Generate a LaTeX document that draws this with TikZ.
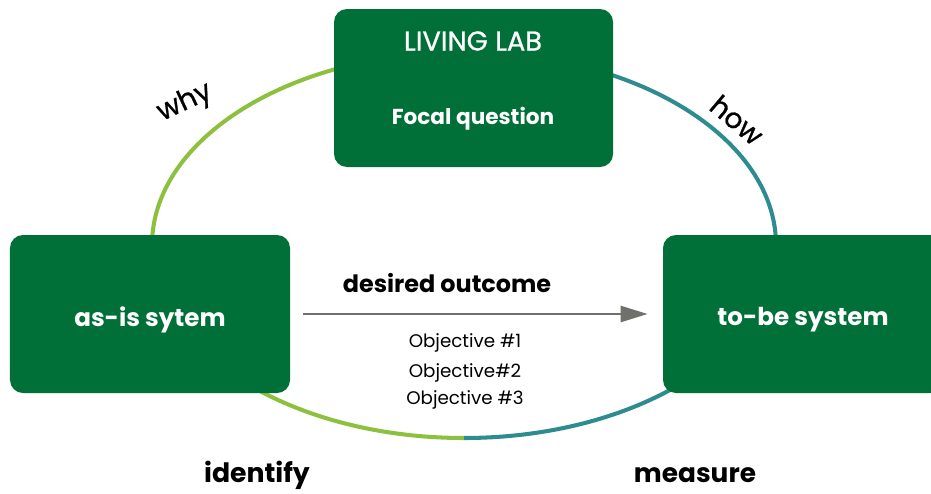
\documentclass[tikz,border=0pt]{standalone}
\usepackage{fontspec}
\setmainfont{Poppins}
\newfontfamily\mediumfont[FakeBold=0.8]{Poppins}
\usepackage{tikz}
\usetikzlibrary{arrows.meta,positioning,calc}
\definecolor{labgreen}{RGB}{0,112,56}
\definecolor{leafgreen}{RGB}{141,192,63}
\definecolor{tealline}{RGB}{46,139,143}
\definecolor{arrowgray}{RGB}{112,112,108}
\tikzset{
    box/.style={fill=labgreen, rounded corners=0.26cm, minimum width=5.6cm, minimum height=3.16cm},
    boxtext/.style={text=white, font=\fontsize{14}{16}\selectfont\bfseries},
    flow/.style={-{Triangle[length=0.54cm, width=0.32cm]}, line width=1.4pt, arrowgray},
    ring/.style={line width=2.3pt},
    word/.style={font=\fontsize{16}{18}\selectfont\mediumfont},
    goal/.style={font=\fontsize{10.4}{12}\selectfont}
}
\begin{document}
\begin{tikzpicture}
    \useasboundingbox (0,0) rectangle (18.62,9.86);
    % the ring behind the boxes
    \coordinate (c) at (9.28,4.96);
    \draw[ring, leafgreen] ($(c)+(0,3.86)$) arc (90:270:6.24cm and 3.86cm);
    \draw[ring, tealline] ($(c)+(0,-3.86)$) arc (-90:90:6.24cm and 3.86cm);
    % boxes
    \node[box, minimum width=5.58cm] (lab) at (9.47,8.10) {};
    \node[text=white, font=\fontsize{15.5}{18}\selectfont\mediumfont] (title) at (9.46,9.04) {LIVING LAB};
    \node[boxtext, font=\fontsize{12.3}{15}\selectfont\bfseries] (focal) at (9.46,7.48) {Focal question};
    \node[box] (asis) at (3.0,3.58) {};
    \node[boxtext] (asistext) at ([yshift=-0.12cm]asis.center) {as-is sytem};
    \node[box] (tobe) at (16.06,3.58) {};
    \node[boxtext] (tobetext) at ([yshift=-0.12cm]tobe.center) {to-be system};
    % arrow and objectives
    \draw[flow, shorten <=0.26cm, shorten >=0.3cm] (asis.east) -- (tobe.west);
    \node[font=\fontsize{13.6}{16}\selectfont\bfseries] (outcome) at (8.94,4.2) {desired outcome};
    \node[goal] (obj1) at (9.3,3.0) {Objective \#1};
    \node[goal] (obj2) at (9.3,2.4) {Objective\#2};
    \node[goal] (obj3) at (9.3,1.86) {Objective \#3};
    % labels round the ring
    \node[word, rotate=25] (why) at (3.7,7.8) {why};
    \node[word, rotate=-40] (how) at (14.74,7.46) {how};
    \node[font=\fontsize{15.2}{18}\selectfont\bfseries] (identify) at (5.14,0.36) {identify};
    \node[font=\fontsize{15}{18}\selectfont\bfseries] (measure) at (13.9,0.36) {measure};
\end{tikzpicture}
\end{document}
